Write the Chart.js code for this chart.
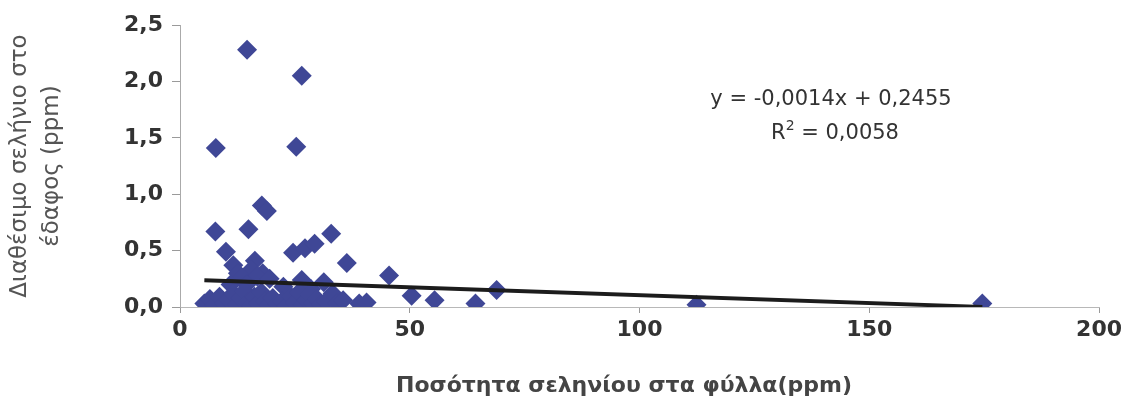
<!DOCTYPE html>
<html lang="el">
<head>
<meta charset="utf-8">
<title>Σελήνιο φύλλων - εδάφους</title>
<script src="https://cdn.jsdelivr.net/npm/chart.js@4.4.1/dist/chart.umd.min.js"></script>
<style>
    html, body { margin: 0; padding: 0; background: #ffffff; }
    #wrap { width: 1126px; height: 411px; position: relative; }
</style>
</head>
<body>
<div id="wrap"><canvas id="seChart"></canvas></div>
<script>
// Σελήνιο στα φύλλα (ppm) και διαθέσιμο σελήνιο στο έδαφος (ppm), ανά δείγμα
const leafSe = [
    14.6, 26.5, 7.8, 25.3, 17.8, 18.9, 7.7, 14.9, 32.9, 10.0, 24.6, 27.2, 29.3,
    11.6, 16.3, 36.3, 45.5, 68.9, 50.4, 55.4, 64.3, 112.4, 174.6,
    12.6, 15.5, 18.0, 13.5, 16.8, 26.5, 31.3, 19.5, 11.0, 14.5, 22.5, 28.5,
    5.3, 6.5, 7.5, 8.6, 9.6, 10.6, 11.6, 12.4, 13.2, 14.0, 14.7, 15.5, 16.2,
    17.0, 17.7, 18.5, 19.3, 20.2, 21.2, 22.2, 23.2, 24.2, 25.1, 25.9, 26.7,
    27.5, 28.2, 29.0, 29.8, 30.7, 31.8, 33.2, 34.2, 35.5, 39.0, 40.6
];
const soilSe = [
    2.28, 2.05, 1.41, 1.42, 0.90, 0.85, 0.67, 0.69, 0.65, 0.49, 0.48, 0.52, 0.56,
    0.37, 0.41, 0.39, 0.28, 0.15, 0.10, 0.06, 0.03, 0.02, 0.03,
    0.30, 0.33, 0.30, 0.26, 0.27, 0.24, 0.22, 0.25, 0.20, 0.20, 0.18, 0.16,
    0.03, 0.07, 0.02, 0.09, 0.03, 0.06, 0.12, 0.02, 0.08, 0.14, 0.04, 0.01, 0.09,
    0.03, 0.13, 0.05, 0.02, 0.08, 0.03, 0.05, 0.01, 0.09, 0.04, 0.13, 0.02,
    0.06, 0.11, 0.03, 0.07, 0.02, 0.05, 0.12, 0.03, 0.06, 0.03, 0.04
];

// Γραμμική τάση: y = a*x + b
const trendSlope = -0.0014;
const trendIntercept = 0.2455;
const rSquared = 0.0058;

const xTicks = [0, 50, 100, 150, 200];
const yTicks = [0, 0.5, 1.0, 1.5, 2.0, 2.5];
const xTitle = 'Ποσότητα σεληνίου στα φύλλα(ppm)';
const yTitle = ['Διαθέσιμο σελήνιο στο', 'έδαφος (ppm)'];

const fmt = (v, d) => v.toFixed(d).replace('.', ',');

const points = leafSe.map((x, i) => ({ x: x, y: soilSe[i] }));
const xMin = Math.min(...leafSe);
const xMax = Math.max(...leafSe);
const trendPoints = [xMin, xMax].map(x => ({ x: x, y: trendSlope * x + trendIntercept }));

// Εξίσωση, R² και τίτλος άξονα x
const chartText = {
    id: 'chartText',
    afterDatasetsDraw(chart) {
        const { ctx, chartArea } = chart;
        const cx = chartArea.left + 651;
        ctx.save();
        ctx.fillStyle = '#333333';
        ctx.textBaseline = 'middle';
        ctx.textAlign = 'center';
        ctx.font = '21px "DejaVu Sans"';
        const sign = trendIntercept >= 0 ? ' + ' : ' - ';
        const eq = 'y = ' + fmt(trendSlope, 4) + 'x' + sign + fmt(Math.abs(trendIntercept), 4);
        ctx.fillText(eq, cx, chartArea.top + 75);

        // R² με εκθέτη
        const rest = ' = ' + fmt(rSquared, 4);
        const wR = ctx.measureText('R').width;
        const wRest = ctx.measureText(rest).width;
        ctx.font = '14px "DejaVu Sans"';
        const wSup = ctx.measureText('2').width;
        const total = wR + wSup + wRest;
        const x0 = cx + 4 - total / 2;
        const y0 = chartArea.top + 109;
        ctx.textAlign = 'left';
        ctx.font = '21px "DejaVu Sans"';
        ctx.fillText('R', x0, y0);
        ctx.font = '14px "DejaVu Sans"';
        ctx.fillText('2', x0 + wR, y0 - 8);
        ctx.font = '21px "DejaVu Sans"';
        ctx.fillText(rest, x0 + wR + wSup, y0);

        // τίτλος x, λίγο αριστερά από το κέντρο
        ctx.textAlign = 'center';
        ctx.fillStyle = '#444444';
        ctx.font = 'bold 22px "DejaVu Sans"';
        ctx.fillText(xTitle, chartArea.left + 444, chartArea.bottom + 79);
        ctx.restore();
    }
};

new Chart(document.getElementById('seChart'), {
    type: 'scatter',
    data: {
        datasets: [
            {
                type: 'line',
                label: 'Γραμμική τάση',
                data: trendPoints,
                borderColor: '#1c1c1c',
                borderWidth: 4,
                pointRadius: 0,
                fill: false,
                order: 0,
            },
            {
                label: 'Δείγματα',
                data: points,
                pointStyle: 'rectRot',
                pointRadius: 10,
                pointHoverRadius: 10,
                backgroundColor: '#3f4796',
                borderColor: '#3f4796',
                borderWidth: 0,
                order: 1,
            }
        ]
    },
    options: {
        responsive: true,
        maintainAspectRatio: false,
        animation: false,
        layout: { padding: { top: 25, right: 26, bottom: 0, left: 0 } },
        plugins: {
            legend: { display: false },
            tooltip: { enabled: false },
        },
        scales: {
            x: {
                type: 'linear',
                min: 0,
                max: 200,
                afterBuildTicks: axis => { axis.ticks = xTicks.map(v => ({ value: v })); },
                afterFit: axis => { axis.height = 104; },
                grid: { drawOnChartArea: false, color: '#9a9a9a', tickLength: 6 },
                border: { color: '#b8b8b8', dash: [4, 2] },
                ticks: {
                    color: '#333333',
                    padding: 4,
                    font: { family: 'DejaVu Sans', size: 22, weight: 'bold' },
                    callback: v => String(v),
                },
                title: { display: false }
            },
            y: {
                min: 0,
                max: 2.5,
                afterBuildTicks: axis => { axis.ticks = yTicks.map(v => ({ value: v })); },
                afterFit: axis => { axis.width = 180; },
                grid: { drawOnChartArea: false, color: '#9a9a9a', tickLength: 8 },
                border: { color: '#aaaaaa' },
                ticks: {
                    color: '#333333',
                    padding: 9,
                    font: { family: 'DejaVu Sans', size: 22, weight: 'bold' },
                    callback: v => fmt(v, 1),
                },
                title: {
                    display: true,
                    text: yTitle,
                    color: '#555555',
                    font: { family: 'DejaVu Sans', size: 23, lineHeight: 1.39 },
                    padding: { top: 4, bottom: 0 },
                }
            }
        }
    },
    plugins: [chartText]
});
</script>
</body>
</html>
